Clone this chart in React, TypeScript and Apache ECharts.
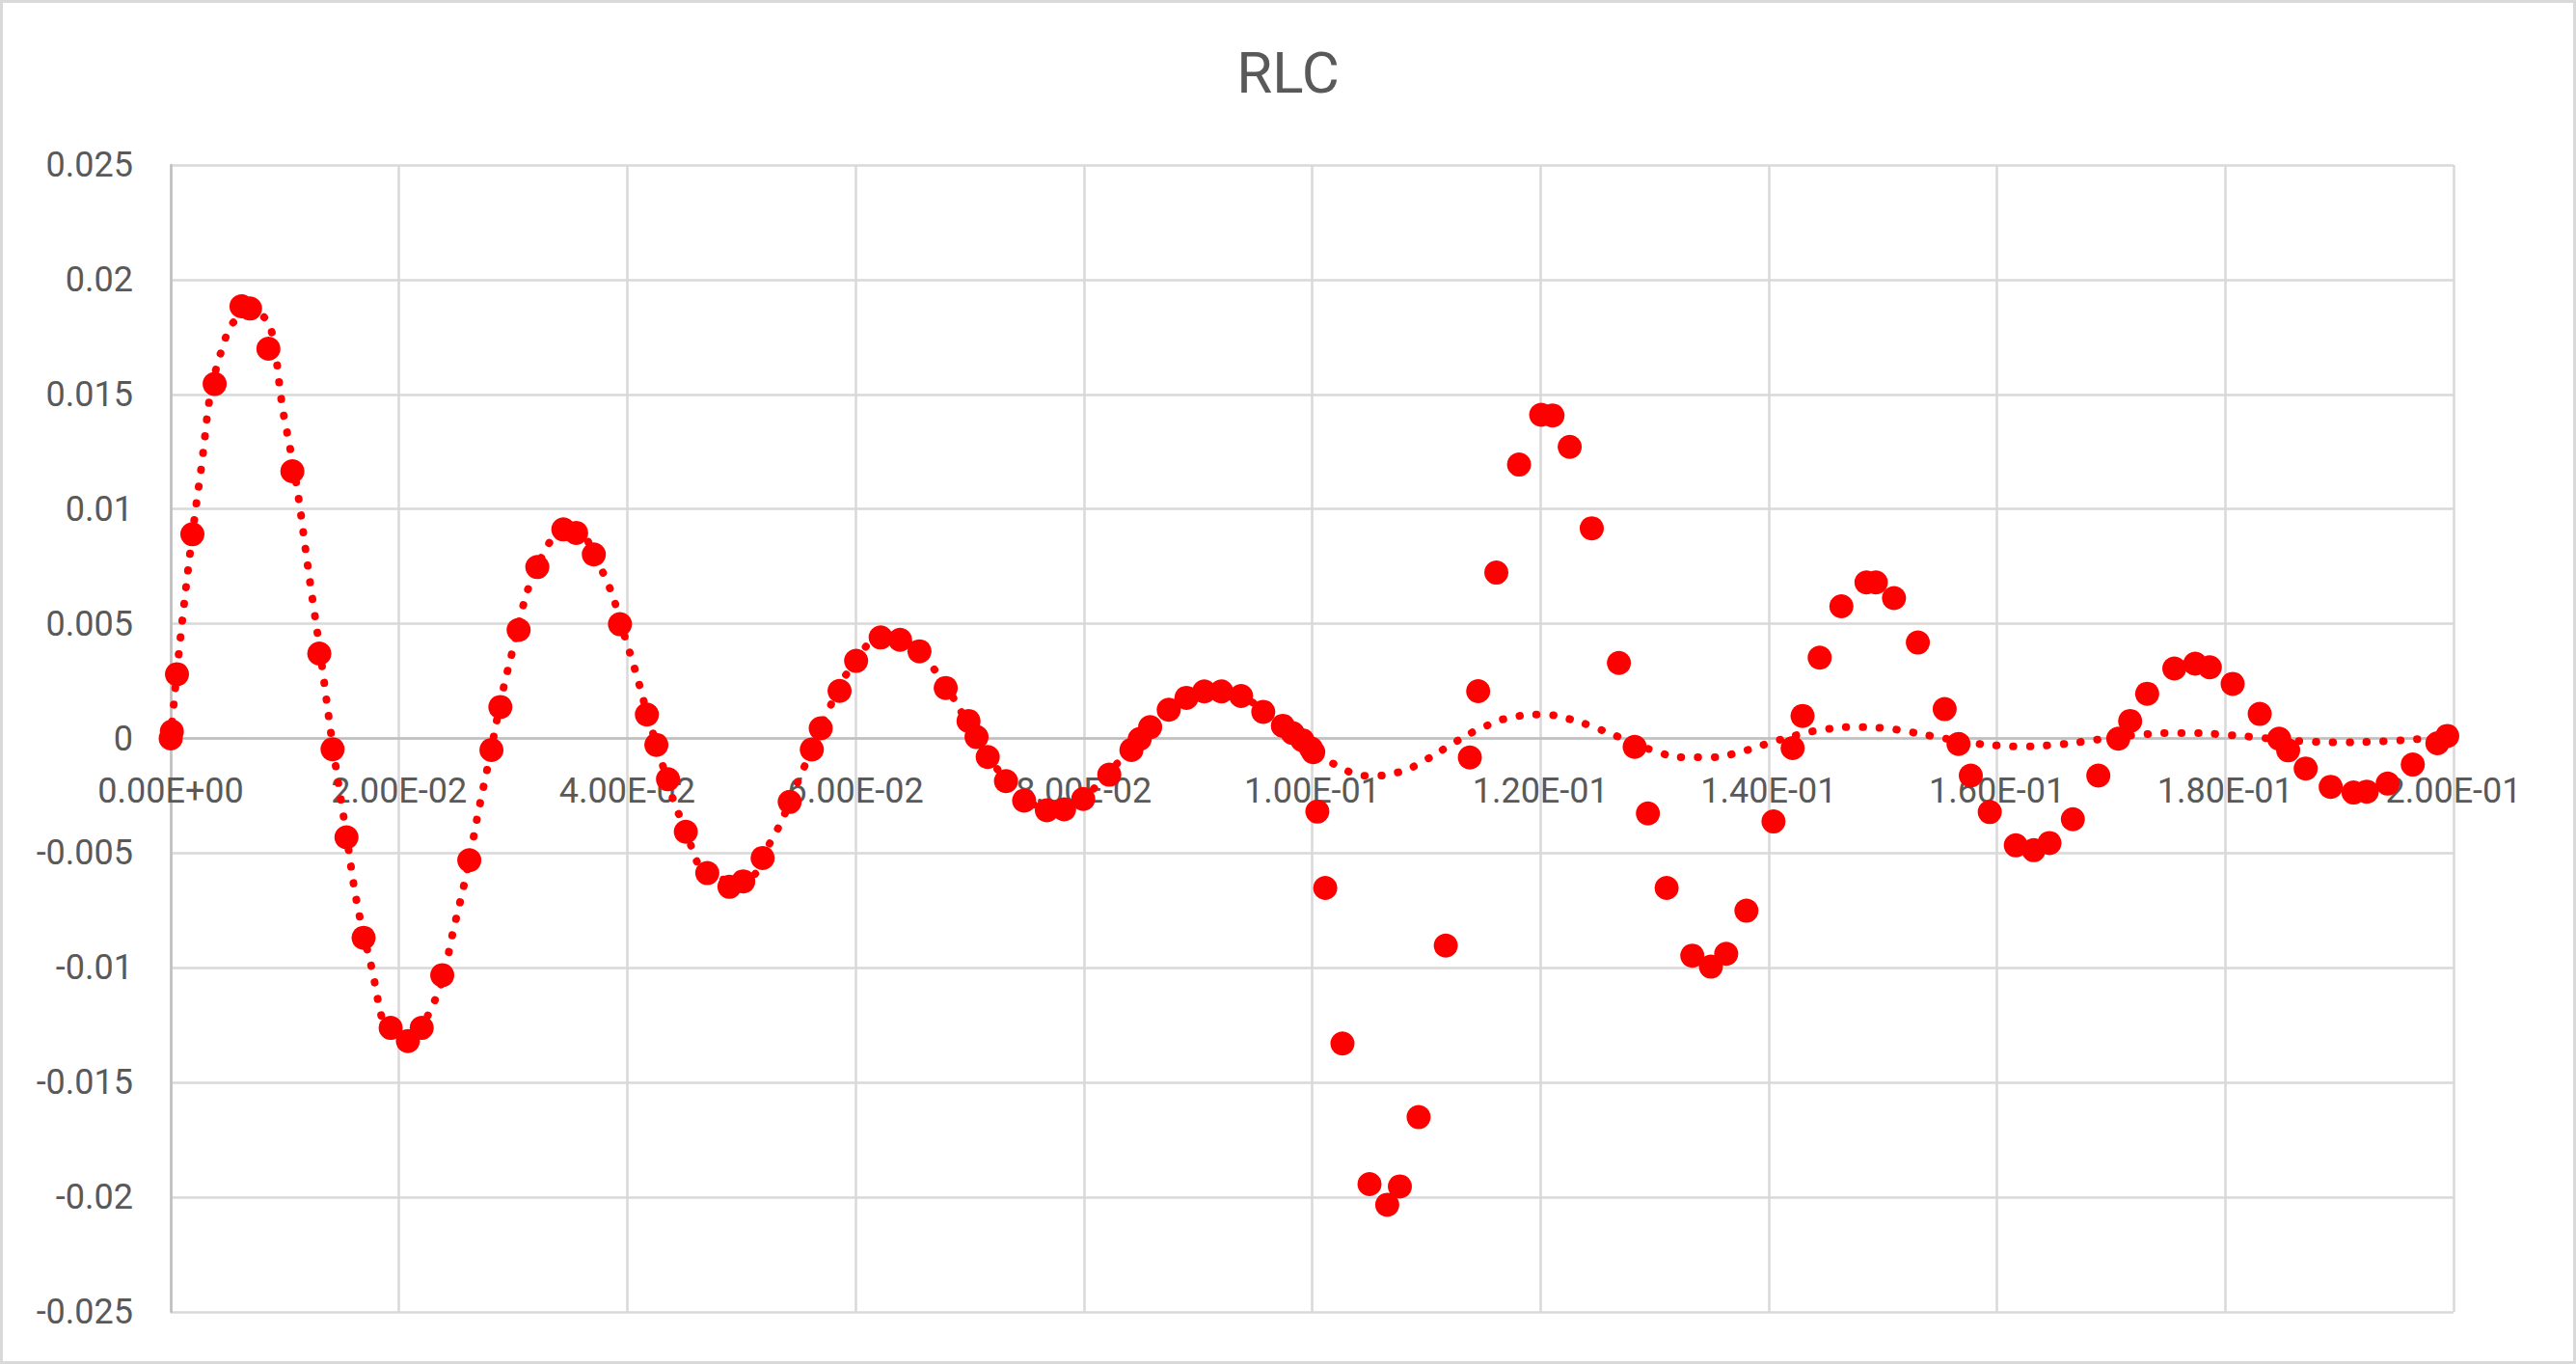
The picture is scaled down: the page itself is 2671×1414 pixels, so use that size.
import React, { useEffect, useRef } from "react";
import * as echarts from "echarts";

const chartTitle = "RLC";

const xMin = 0;
const xMax = 0.2;
const xStep = 0.02;
const yMin = -0.025;
const yMax = 0.025;
const yStep = 0.005;

// measured points (time, value)
const measuredT = [
  0, 0.0001, 0.00055, 0.0019, 0.00385, 0.0062, 0.00695, 0.00856, 0.01066, 0.01302,
  0.01418, 0.0154, 0.0169, 0.01927, 0.02078, 0.02199, 0.02379, 0.02616, 0.0281, 0.02888,
  0.03048, 0.03212, 0.0344, 0.03552, 0.03707, 0.03936, 0.04172, 0.04255, 0.04357, 0.04513,
  0.04701, 0.04895, 0.05016, 0.05186, 0.05423, 0.05617, 0.05695, 0.0586, 0.06005, 0.0622,
  0.0639, 0.0656, 0.0679, 0.0699, 0.0706, 0.07158, 0.07318, 0.07477, 0.07676, 0.07827,
  0.07995, 0.08223, 0.08417, 0.0849, 0.08581, 0.08744, 0.08899, 0.09055, 0.09205, 0.09378,
  0.09572, 0.09744, 0.0983, 0.09916, 0.0999, 0.1001, 0.10046, 0.10115, 0.10266, 0.10503,
  0.10658, 0.10769, 0.10933, 0.11171, 0.11382, 0.11455, 0.11614, 0.11813, 0.12007, 0.12106,
  0.12257, 0.1245, 0.12688, 0.12826, 0.12942, 0.13106, 0.13331, 0.13494, 0.13628, 0.13805,
  0.14042, 0.1421, 0.14297, 0.14447, 0.14637, 0.14857, 0.14939, 0.15098, 0.15307, 0.15542,
  0.15663, 0.15771, 0.15937, 0.16165, 0.16322, 0.1646, 0.16665, 0.16888, 0.17063, 0.17167,
  0.17316, 0.17554, 0.17737, 0.17865, 0.18065, 0.18302, 0.18472, 0.18551, 0.18705, 0.18924,
  0.19124, 0.1924, 0.19423, 0.19643, 0.19859, 0.19945,
];
const measuredV = [
  0, 0.0003, 0.0028, 0.0089, 0.01545, 0.01884, 0.01874, 0.01699, 0.01165, 0.0037,
  -0.00047, -0.00431, -0.00869, -0.01262, -0.01319, -0.01262, -0.01032, -0.00531, -0.0005, 0.00137,
  0.00473, 0.00747, 0.00911, 0.00896, 0.00802, 0.00498, 0.00104, -0.00028, -0.00178, -0.00407,
  -0.00587, -0.00647, -0.00623, -0.00521, -0.00277, -0.00048, 0.00044, 0.00207, 0.00338, 0.0044,
  0.0043, 0.0038, 0.0022, 0.00076, 0.00006, -0.00081, -0.00186, -0.00271, -0.00313, -0.00309,
  -0.00264, -0.00158, -0.0005, -0.00002, 0.00049, 0.00125, 0.00177, 0.00205, 0.00205, 0.00185,
  0.00116, 0.00055, 0.00023, -0.00008, -0.00043, -0.0006, -0.00319, -0.00652, -0.0133, -0.01943,
  -0.02033, -0.01953, -0.01651, -0.00903, -0.00083, 0.00206, 0.00723, 0.01194, 0.01411, 0.01408,
  0.01271, 0.00916, 0.00329, -0.00037, -0.00327, -0.00652, -0.00947, -0.00995, -0.00939, -0.00751,
  -0.00362, -0.00042, 0.00098, 0.00352, 0.00576, 0.0068, 0.0068, 0.00612, 0.00418, 0.00128,
  -0.00024, -0.00162, -0.00321, -0.00466, -0.00487, -0.00456, -0.00352, -0.00162, -0.00001, 0.00076,
  0.00195, 0.00305, 0.00326, 0.0031, 0.00238, 0.00107, -0.00001, -0.00052, -0.00131, -0.00211,
  -0.00236, -0.00232, -0.00197, -0.00114, -0.00021, 0.00011,
];

// theoretical curve (dotted line)
const theoryT = [
  0, 0.0025, 0.005, 0.0075, 0.01, 0.0125, 0.015, 0.0175, 0.02, 0.0225,
  0.025, 0.0275, 0.03, 0.0325, 0.035, 0.0375, 0.04, 0.0425, 0.045, 0.0475,
  0.05, 0.0525, 0.055, 0.0575, 0.06, 0.0625, 0.065, 0.0675, 0.07, 0.0725,
  0.075, 0.0775, 0.08, 0.0825, 0.085, 0.0875, 0.09, 0.0925, 0.095, 0.0975,
  0.1, 0.1025, 0.105, 0.1075, 0.11, 0.1125, 0.115, 0.1175, 0.12, 0.1225,
  0.125, 0.1275, 0.13, 0.1325, 0.135, 0.1375, 0.14, 0.1425, 0.145, 0.1475,
  0.15, 0.1525, 0.155, 0.1575, 0.16, 0.1625, 0.165, 0.1675, 0.17, 0.1725,
  0.175, 0.1775, 0.18, 0.1825, 0.185, 0.1875, 0.19, 0.1925, 0.195, 0.1975,
  0.2,
];
const theoryV = [
  0, 0.01114, 0.01775, 0.01849, 0.01384, 0.0058, -0.00294, -0.00978, -0.013, -0.01211,
  -0.00786, -0.00188, 0.00392, 0.0079, 0.00914, 0.00761, 0.00409, -0.00017, -0.00388, -0.00602,
  -0.00619, -0.00456, -0.00183, 0.0011, 0.00336, 0.00439, 0.00403, 0.00257, 0.00055, -0.00139,
  -0.00269, -0.00307, -0.00252, -0.00132, 0.00012, 0.00135, 0.00204, 0.00207, 0.0015, 0.00057,
  -0.00041, -0.00127, -0.00163, -0.00148, -0.00092, -0.00017, 0.00049, 0.00092, 0.00104, 0.00085,
  0.00043, -0.00006, -0.00054, -0.00082, -0.00082, -0.00059, -0.00021, 0.00015, 0.0004, 0.0005,
  0.00045, 0.00027, 0.00004, -0.00017, -0.00031, -0.00035, -0.00028, -0.00014, 0.00003, 0.00016,
  0.00023, 0.00023, 0.00016, 0.00006, -0.00006, -0.00014, -0.00017, -0.00015, -0.00009, -0.00001,
  0.00006,
];

const RED = "#ff0000";
const TEXT = "#595959";
const GRID = "#d9d9d9";
const AXIS = "#bfbfbf";
const FONT = "Roboto, 'Noto Sans', sans-serif";

const W = 2671;
const H = 1414;
const PLOT_LEFT = 177;
const PLOT_RIGHT = 127;
const PLOT_TOP = 171;
const PLOT_BOTTOM = 54;

function fmtExp(v: number): string {
  const s = (Math.abs(v) < 1e-12 ? 0 : v).toExponential(2);
  const [m, e] = s.split("e");
  const sign = e[0] === "-" ? "-" : "+";
  const digits = e.replace(/[+-]/, "").padStart(2, "0");
  return `${m}E${sign}${digits}`;
}

export default function App() {
  const ref = useRef<HTMLDivElement>(null);

  useEffect(() => {
    document.body.style.margin = "0";
    if (!ref.current) return;
    const chart = echarts.init(ref.current, undefined, { renderer: "svg" });
    const measured = measuredT.map((t, i) => [t, measuredV[i]]);
    const theory = theoryT.map((t, i) => [t, theoryV[i]]);

    // pixel row of value 0 on the y axis (grid of the upper half ends there)
    const plotH = H - PLOT_TOP - PLOT_BOTTOM;
    const zeroY = PLOT_TOP + plotH * ((yMax - 0) / (yMax - yMin));

    chart.setOption({
      animation: false,
      backgroundColor: "#ffffff",
      title: {
        text: chartTitle,
        left: "center",
        top: 40,
        textStyle: { fontFamily: FONT, fontSize: 60, fontWeight: "normal", color: TEXT },
      },
      grid: [
        { left: PLOT_LEFT, right: PLOT_RIGHT, top: PLOT_TOP, bottom: PLOT_BOTTOM },
        { left: PLOT_LEFT, right: PLOT_RIGHT, top: PLOT_TOP, bottom: H - zeroY },
      ],
      xAxis: [
        {
          type: "value",
          gridIndex: 0,
          min: xMin,
          max: xMax,
          interval: xStep,
          axisLine: { show: false },
          axisTick: { show: false },
          axisLabel: { show: false },
          splitLine: { show: true, lineStyle: { color: GRID, width: 2.5 } },
        },
        {
          type: "value",
          gridIndex: 1,
          min: xMin,
          max: xMax,
          interval: xStep,
          axisLine: { show: true, onZero: false, lineStyle: { color: AXIS, width: 2.5 } },
          axisTick: { show: false },
          axisLabel: {
            formatter: (v: number) => fmtExp(v),
            margin: 36,
            fontSize: 36,
            color: TEXT,
            fontFamily: FONT,
          },
          splitLine: { show: false },
          z: 1,
        },
      ],
      yAxis: [
        {
          type: "value",
          gridIndex: 0,
          min: yMin,
          max: yMax,
          interval: yStep,
          axisLine: { show: true, onZero: false, lineStyle: { color: AXIS, width: 2.5 } },
          axisTick: { show: false },
          axisLabel: { margin: 39, fontSize: 36, color: TEXT, fontFamily: FONT },
          splitLine: { show: true, lineStyle: { color: GRID, width: 2.5 } },
        },
        {
          type: "value",
          gridIndex: 1,
          min: 0,
          max: yMax,
          show: false,
        },
      ],
      series: [
        {
          type: "scatter",
          xAxisIndex: 0,
          yAxisIndex: 0,
          data: measured,
          symbol: "circle",
          symbolSize: 25,
          itemStyle: { color: RED, opacity: 1 },
          z: 3,
        },
        {
          type: "line",
          xAxisIndex: 0,
          yAxisIndex: 0,
          data: theory,
          smooth: true,
          symbol: "none",
          showSymbol: false,
          lineStyle: { color: RED, width: 8, type: [0.5, 17], cap: "round" },
          z: 4,
        },
      ],
      graphic: [
        {
          type: "rect",
          shape: { x: 1.5, y: 1.5, width: W - 3, height: H - 3 },
          style: { fill: "none", stroke: GRID, lineWidth: 3 },
          silent: true,
          z: -1,
        },
      ],
    });

    return () => chart.dispose();
  }, []);

  return (
    <div
      ref={ref}
      style={{ position: "absolute", left: 0, top: 0, width: W, height: H }}
    />
  );
}
